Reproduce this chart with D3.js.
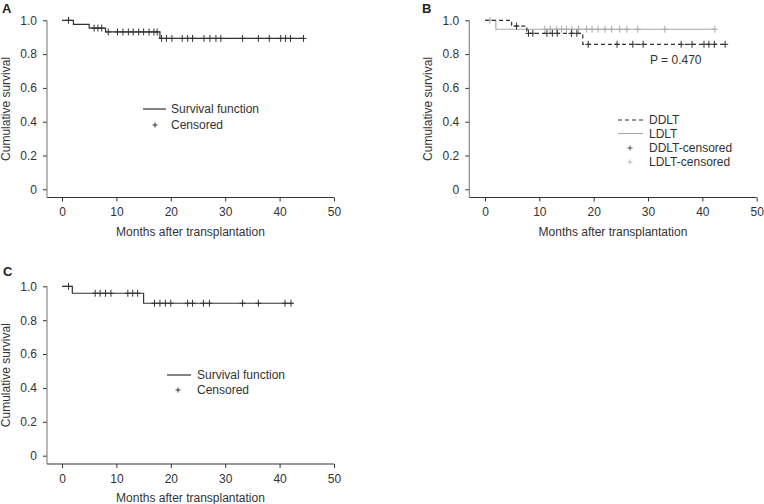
<!DOCTYPE html>
<html>
<head>
<meta charset="utf-8">
<script src="https://cdn.jsdelivr.net/npm/d3@7"></script>
<style>
  html, body { margin: 0; padding: 0; background: #fff; }
  svg { display: block; font-family: "Liberation Sans", Arial, sans-serif; }
</style>
</head>
<body>
<svg id="chart" width="764" height="504"></svg>
<script>
// ---------- DATA ----------
const xTicks = [0, 10, 20, 30, 40, 50];
const yTicks = [0, 0.2, 0.4, 0.6, 0.8, 1.0];
const xTitle = "Months after transplantation";
const yTitle = "Cumulative survival";

// Panel A: overall
const aStepTimes = [0, 2.1, 5.0, 8.0, 18.0];
const aStepSurv  = [1.0, 0.976, 0.954, 0.931, 0.893];
const aEnd = 44.5;
const aCensor = [1.2, 5.9, 6.6, 7.3, 8.5, 10.2, 11.2, 12.2, 13.1, 14.1, 15.0, 16.0, 16.9, 17.5,
                 18.3, 19.2, 20.2, 22.1, 23.1, 24.0, 26.1, 27.2, 28.3, 29.2, 33.2, 36.1, 38.1,
                 40.2, 41.1, 42.0, 44.4];

// Panel B: DDLT vs LDLT
const ddltStepTimes = [0, 4.9, 7.7, 18.0];
const ddltStepSurv  = [1.0, 0.966, 0.923, 0.858];
const ddltEnd = 44.3;
const ddltCensor = [5.8, 8.0, 8.8, 11.4, 12.4, 13.3, 15.9, 16.9, 19.0, 24.3, 27.2, 29.1,
                    36.1, 38.1, 40.3, 41.2, 42.2, 44.2];
const ldltStepTimes = [0, 2.0];
const ldltStepSurv  = [1.0, 0.947];
const ldltEnd = 42.3;
const ldltCensor = [0.9, 11.0, 12.0, 13.2, 14.1, 15.0, 16.0, 17.2, 18.7, 19.7, 20.8, 22.1,
                    23.3, 24.8, 26.1, 28.1, 33.1, 42.3];
const pValueText = "P = 0.470";

// Panel C
const cStepTimes = [0, 1.9, 15.0];
const cStepSurv  = [1.0, 0.959, 0.90];
const cEnd = 42.4;
const cCensor = [1.2, 6.1, 7.0, 8.0, 9.0, 12.1, 13.0, 13.9, 17.0, 18.0, 19.0, 20.0, 23.1,
                 24.0, 26.0, 27.1, 33.2, 36.1, 41.0, 42.1];

const legendSingle = ["Survival function", "Censored"];
const legendB = ["DDLT", "LDLT", "DDLT-censored", "LDLT-censored"];
const panelLabels = ["A", "B", "C"];

// ---------- DRAW ----------
const svg = d3.select("#chart");
const DARK = "#333";
const LIGHT = "#a8a8a8";

function makePanel(cfg) {
  const g = svg.append("g");
  const x = d3.scaleLinear().domain([0, 50]).range([cfg.x0, cfg.x1]);
  const y = d3.scaleLinear().domain([0, 1]).range([cfg.y0, cfg.y1]);

  // x axis
  const xa = g.append("g").attr("transform", `translate(0,${cfg.xAxisY})`)
    .call(d3.axisBottom(x).tickValues(xTicks).tickSize(4).tickPadding(6).tickFormat(d3.format("d")));
  xa.select(".domain").remove();
  xa.selectAll("line").attr("stroke", DARK);
  xa.selectAll("text").attr("fill", DARK).style("font-size", "12px")
    .style("font-family", "'Liberation Sans', Arial, sans-serif");
  g.append("line").attr("x1", cfg.yAxisX).attr("x2", cfg.x1)
    .attr("y1", cfg.xAxisY).attr("y2", cfg.xAxisY).attr("stroke", DARK).attr("stroke-width", 1.2);

  // y axis
  const ya = g.append("g").attr("transform", `translate(${cfg.yAxisX},0)`)
    .call(d3.axisLeft(y).tickValues(yTicks).tickSize(4).tickPadding(6)
      .tickFormat(d => d === 0 ? "0" : d3.format(".1f")(d)));
  ya.select(".domain").remove();
  ya.selectAll("line").attr("stroke", DARK);
  ya.selectAll("text").attr("fill", DARK).style("font-size", "12px")
    .style("font-family", "'Liberation Sans', Arial, sans-serif");
  g.append("line").attr("x1", cfg.yAxisX).attr("x2", cfg.yAxisX)
    .attr("y1", y(1)).attr("y2", cfg.xAxisY).attr("stroke", "#888").attr("stroke-width", 1.2);

  // titles
  g.append("text").attr("x", (cfg.yAxisX + cfg.x1) / 2).attr("y", cfg.xAxisY + 38)
    .attr("text-anchor", "middle").attr("fill", DARK).style("font-size", "12px").text(xTitle);
  const ymid = (y(1) + cfg.xAxisY) / 2;
  g.append("text").attr("transform", `translate(${cfg.yAxisX - 37},${ymid}) rotate(-90)`)
    .attr("text-anchor", "middle").attr("fill", DARK).style("font-size", "12px").text(yTitle);

  return { g, x, y };
}

function stepSurv(times, surv, t) {
  let s = surv[0];
  for (let i = 0; i < times.length; i++) if (t >= times[i]) s = surv[i];
  return s;
}

function drawKM(p, times, surv, end, censor, color, dash) {
  const pts = [];
  for (let i = 0; i < times.length; i++) {
    if (i > 0) pts.push([times[i], surv[i - 1]]);
    pts.push([times[i], surv[i]]);
  }
  pts.push([end, surv[surv.length - 1]]);
  const line = d3.line().x(d => p.x(d[0])).y(d => p.y(d[1])).curve(d3.curveLinear);
  p.g.append("path").attr("d", line(pts)).attr("fill", "none")
    .attr("stroke", color).attr("stroke-width", 1.2)
    .attr("stroke-dasharray", dash || null);
  const cg = p.g.append("g");
  censor.forEach(t => {
    const cx = p.x(t), cy = p.y(stepSurv(times, surv, t));
    cg.append("line").attr("x1", cx).attr("x2", cx).attr("y1", cy - 3.5).attr("y2", cy + 3.5)
      .attr("stroke", color).attr("stroke-width", 1);
    cg.append("line").attr("x1", cx - 3).attr("x2", cx + 3).attr("y1", cy).attr("y2", cy)
      .attr("stroke", color).attr("stroke-width", 1);
  });
}

function plus(g, cx, cy, color, r) {
  g.append("line").attr("x1", cx).attr("x2", cx).attr("y1", cy - r).attr("y2", cy + r)
    .attr("stroke", color).attr("stroke-width", 1);
  g.append("line").attr("x1", cx - r).attr("x2", cx + r).attr("y1", cy).attr("y2", cy)
    .attr("stroke", color).attr("stroke-width", 1);
}

function label(txt, x, y) {
  svg.append("text").attr("x", x).attr("y", y).attr("fill", "#222")
    .style("font-size", "13px").style("font-weight", "bold").text(txt);
}

// Panel A
const pA = makePanel({ x0: 62, x1: 334, y0: 189.3, y1: 20.3, yAxisX: 47, xAxisY: 197.5 });
drawKM(pA, aStepTimes, aStepSurv, aEnd, aCensor, DARK);
{
  const lg = svg.append("g");
  lg.append("line").attr("x1", 143).attr("x2", 166).attr("y1", 109).attr("y2", 109)
    .attr("stroke", DARK).attr("stroke-width", 1.2);
  plus(lg, 155, 125, DARK, 2.5);
  lg.append("text").attr("x", 171).attr("y", 113).attr("fill", DARK).style("font-size", "12px").text(legendSingle[0]);
  lg.append("text").attr("x", 171).attr("y", 129).attr("fill", DARK).style("font-size", "12px").text(legendSingle[1]);
}
label(panelLabels[0], 2, 13);

// Panel B
const pB = makePanel({ x0: 485, x1: 756.7, y0: 189.3, y1: 20.3, yAxisX: 469.3, xAxisY: 197.5 });
drawKM(pB, ldltStepTimes, ldltStepSurv, ldltEnd, ldltCensor, LIGHT);
drawKM(pB, ddltStepTimes, ddltStepSurv, ddltEnd, ddltCensor, DARK, "4,3");
pB.g.append("text").attr("x", 650).attr("y", 64).attr("fill", DARK).style("font-size", "12px").text(pValueText);
{
  const lg = svg.append("g");
  lg.append("line").attr("x1", 618).attr("x2", 643).attr("y1", 120).attr("y2", 120)
    .attr("stroke", DARK).attr("stroke-width", 1.1).attr("stroke-dasharray", "4,3");
  lg.append("line").attr("x1", 618).attr("x2", 643).attr("y1", 133.5).attr("y2", 133.5)
    .attr("stroke", LIGHT).attr("stroke-width", 1.1);
  plus(lg, 630, 148, "#555", 2.5);
  plus(lg, 630, 162, "#bbb", 2.5);
  const ys = [124, 138, 152, 166];
  legendB.forEach((t, i) => lg.append("text").attr("x", 649).attr("y", ys[i])
    .attr("fill", DARK).style("font-size", "12px").text(t));
}
label(panelLabels[1], 422, 13);

// Panel C
const pC = makePanel({ x0: 62, x1: 334, y0: 455.7, y1: 286.3, yAxisX: 47, xAxisY: 464 });
drawKM(pC, cStepTimes, cStepSurv, cEnd, cCensor, DARK);
{
  const lg = svg.append("g");
  lg.append("line").attr("x1", 167).attr("x2", 191).attr("y1", 375).attr("y2", 375)
    .attr("stroke", DARK).attr("stroke-width", 1.2);
  plus(lg, 178, 390, DARK, 2.5);
  lg.append("text").attr("x", 197).attr("y", 379).attr("fill", DARK).style("font-size", "12px").text(legendSingle[0]);
  lg.append("text").attr("x", 197).attr("y", 394).attr("fill", DARK).style("font-size", "12px").text(legendSingle[1]);
}
label(panelLabels[2], 3, 276);
</script>
</body>
</html>
